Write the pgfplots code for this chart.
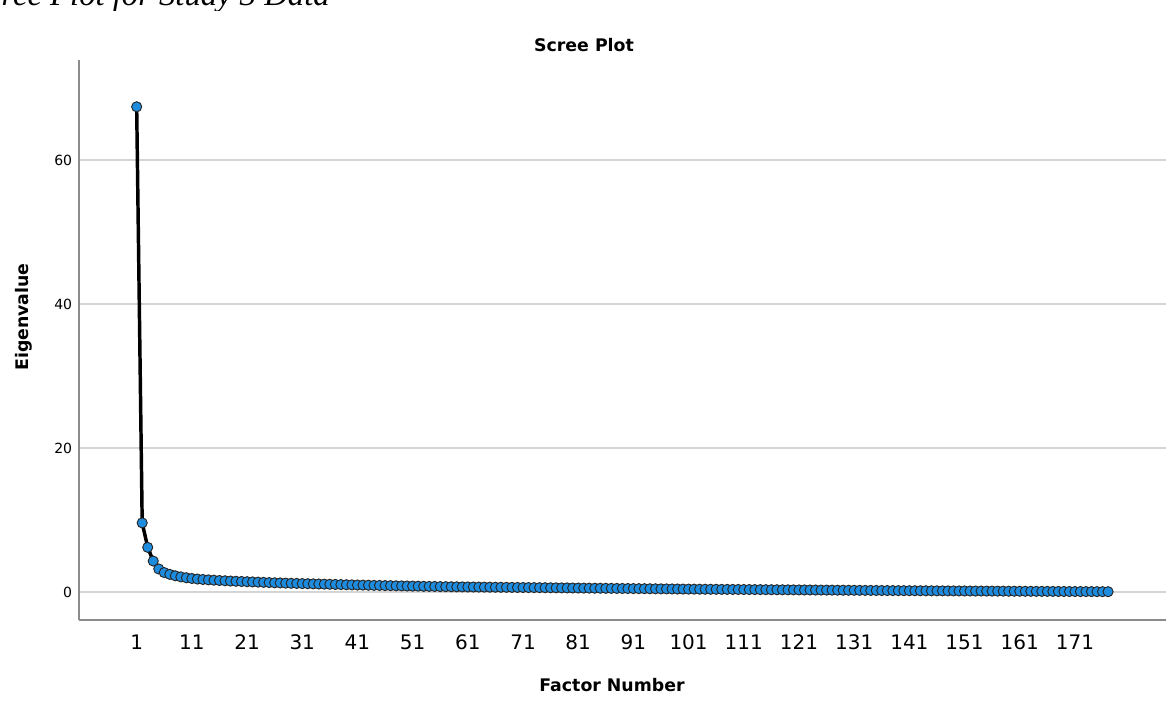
\documentclass[border=0pt]{standalone}
\usepackage{fontspec}
\setmainfont{DejaVu Sans}
\newfontfamily\capfont{Liberation Serif}
\usepackage{pgfplots}
\pgfplotsset{compat=1.18}
\definecolor{ptfill}{RGB}{30,140,222}
\definecolor{axgray}{RGB}{140,140,140}
\definecolor{gridgray}{RGB}{212,212,212}
\begin{document}
\begin{tikzpicture}
\begin{axis}[
  at={(59.25pt,66pt)}, anchor=south west,
  scale only axis, width=815.25pt, height=420pt,
  xmin=-9.45, xmax=187.5, ymin=-3.89, ymax=73.9,
  axis x line=bottom, axis y line=left,
  axis line style={axgray, line width=1.1pt, -},
  xtick={1,11,...,171}, ytick={0,20,40,60},
  major tick length=0pt,
  ymajorgrids, grid style={gridgray, line width=1.1pt},
  /pgf/number format/assume math mode=true,
  xticklabel style={font=\fontsize{15}{18}\selectfont, inner sep=0pt, anchor=north, yshift=-11pt},
  yticklabel style={font=\fontsize{10.5}{12}\selectfont, inner sep=0pt, anchor=east, xshift=-5pt},
  clip=false,
]
\addplot[black, line width=2.6pt, mark=*, mark size=3.8pt,
  mark options={fill=ptfill, draw=black!85, line width=0.7pt}] coordinates {
(1,67.4)(2,9.6)(3,6.2)(4,4.3)(5,3.2)(6,2.7)(7,2.45)(8,2.25)(9,2.1)(10,1.98)
(11,1.88)(12,1.80)(13,1.74)(14,1.69)(15,1.64)(16,1.60)(17,1.56)(18,1.52)(19,1.49)(20,1.46)
(21,1.43)(22,1.40)(23,1.37)(24,1.34)(25,1.31)(26,1.28)(27,1.26)(28,1.23)(29,1.21)(30,1.19)
(31,1.17)(32,1.15)(33,1.13)(34,1.11)(35,1.09)(36,1.07)(37,1.05)(38,1.03)(39,1.01)(40,0.99)
(41,0.97)(42,0.96)(43,0.94)(44,0.92)(45,0.91)(46,0.89)(47,0.88)(48,0.86)(49,0.85)(50,0.83)
(51,0.82)(52,0.81)(53,0.79)(54,0.78)(55,0.77)(56,0.75)(57,0.74)(58,0.73)(59,0.72)(60,0.71)
(61,0.700)(62,0.692)(63,0.685)(64,0.677)(65,0.670)(66,0.662)(67,0.655)(68,0.647)(69,0.640)(70,0.632)
(71,0.625)(72,0.617)(73,0.610)(74,0.602)(75,0.595)(76,0.587)(77,0.580)(78,0.572)(79,0.565)(80,0.557)
(81,0.550)(82,0.542)(83,0.535)(84,0.527)(85,0.520)(86,0.512)(87,0.505)(88,0.497)(89,0.490)(90,0.482)
(91,0.475)(92,0.467)(93,0.460)(94,0.452)(95,0.445)(96,0.437)(97,0.430)(98,0.422)(99,0.415)(100,0.407)
(101,0.400)(102,0.395)(103,0.389)(104,0.384)(105,0.378)(106,0.373)(107,0.367)(108,0.362)(109,0.356)(110,0.351)
(111,0.345)(112,0.340)(113,0.334)(114,0.329)(115,0.323)(116,0.318)(117,0.312)(118,0.307)(119,0.301)(120,0.296)
(121,0.290)(122,0.285)(123,0.279)(124,0.274)(125,0.268)(126,0.263)(127,0.257)(128,0.252)(129,0.246)(130,0.241)
(131,0.235)(132,0.230)(133,0.224)(134,0.219)(135,0.213)(136,0.208)(137,0.202)(138,0.197)(139,0.191)(140,0.186)
(141,0.180)(142,0.176)(143,0.172)(144,0.169)(145,0.165)(146,0.161)(147,0.157)(148,0.153)(149,0.150)(150,0.146)
(151,0.142)(152,0.138)(153,0.134)(154,0.131)(155,0.127)(156,0.123)(157,0.119)(158,0.115)(159,0.112)(160,0.108)
(161,0.104)(162,0.100)(163,0.096)(164,0.093)(165,0.089)(166,0.085)(167,0.081)(168,0.077)(169,0.074)(170,0.070)
(171,0.066)(172,0.062)(173,0.058)(174,0.055)(175,0.051)(176,0.047)(177,0.043)
};
\end{axis}
\node[font=\bfseries\fontsize{13}{15}\selectfont, inner sep=0pt] at (438pt,497.25pt) {Scree Plot};
\node[font=\bfseries\fontsize{13}{15}\selectfont, inner sep=0pt] at (459pt,17.25pt) {Factor Number};
\node[font=\bfseries\fontsize{13}{15}\selectfont, inner sep=0pt, rotate=90] at (18pt,293.25pt) {Eigenvalue};
\begin{scope}
\clip (0,523pt) rectangle (300pt,531pt);
\node[font=\capfont\itshape\fontsize{24.5}{28}\selectfont, inner sep=0pt, anchor=base east] at (247.5pt,526.5pt) {Scree Plot for Study 3 Data};
\end{scope}
\pgfresetboundingbox
\path[use as bounding box] (0,0) rectangle (874.5pt,531pt);
\end{tikzpicture}
\end{document}
